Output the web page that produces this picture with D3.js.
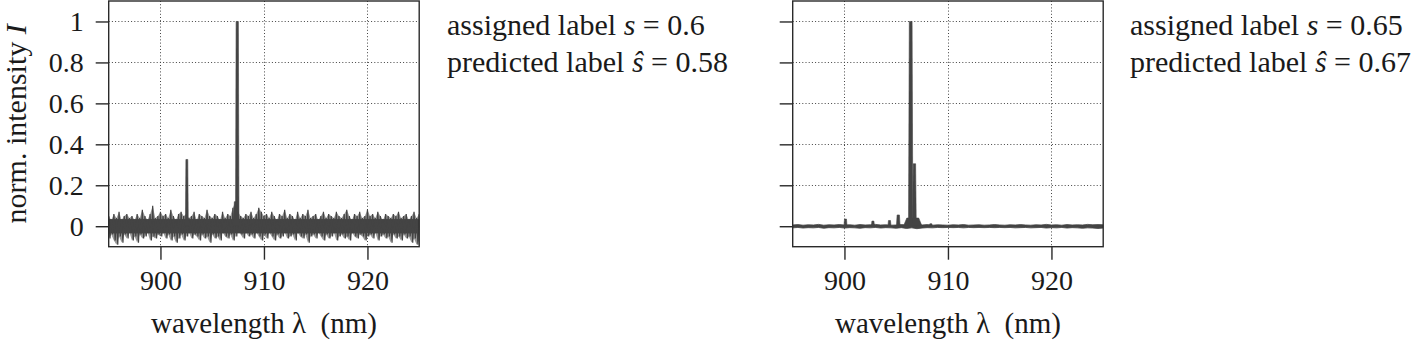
<!DOCTYPE html>
<html><head><meta charset="utf-8">
<script src="https://cdn.jsdelivr.net/npm/d3@7/dist/d3.min.js"></script>
<style>body{margin:0;background:#fff}svg{display:block}</style>
</head><body>
<script>
// ---------------- data ----------------
const xTicks = [900, 910, 920];
const yTicks = [0, 0.2, 0.4, 0.6, 0.8, 1];
const yTickLabels = ["0", "0.2", "0.4", "0.6", "0.8", "1"];
const xDomain = [895, 925];
const yDomain = [-0.1, 1.1];

// left spectrum: noise extremes, sampled every 0.25 nm from 895 to 925
const leftStart = 895, leftStep = 0.25;
const leftUpper = [
 0.05,0.03,0.06,0.04,0.07,0.03,0.05,0.06,0.04,0.05,
 0.03,0.06,0.04,0.08,0.05,0.03,0.06,0.10,0.04,0.05,
 0.07,0.05,0.06,0.04,0.08,0.05,0.03,0.06,0.07,0.05,
 0.06,0.04,0.05,0.07,0.03,0.06,0.05,0.04,0.08,0.05,
 0.04,0.06,0.05,0.03,0.07,0.04,0.06,0.05,0.09,0.12,
 0.07,0.05,0.04,0.06,0.05,0.07,0.04,0.06,0.09,0.07,
 0.05,0.06,0.04,0.07,0.05,0.03,0.06,0.05,0.08,0.04,
 0.06,0.05,0.03,0.07,0.04,0.06,0.05,0.08,0.04,0.05,
 0.06,0.03,0.05,0.07,0.04,0.06,0.05,0.04,0.07,0.05,
 0.04,0.06,0.08,0.05,0.03,0.06,0.05,0.07,0.04,0.05,
 0.08,0.05,0.06,0.04,0.07,0.05,0.03,0.06,0.05,0.04,
 0.06,0.05,0.07,0.04,0.05,0.06,0.03,0.05,0.07,0.04,0.06];
const leftLower = [
 -0.06,-0.04,-0.07,-0.09,-0.05,-0.08,-0.04,-0.06,-0.03,-0.07,
 -0.05,-0.08,-0.04,-0.06,-0.05,-0.03,-0.07,-0.05,-0.06,-0.04,
 -0.05,-0.03,-0.06,-0.04,-0.07,-0.05,-0.08,-0.06,-0.04,-0.07,
 -0.05,-0.03,-0.06,-0.04,-0.05,-0.07,-0.04,-0.06,-0.05,-0.08,
 -0.04,-0.06,-0.05,-0.07,-0.03,-0.05,-0.06,-0.04,-0.07,-0.05,
 -0.02,-0.04,-0.06,-0.03,-0.05,-0.04,-0.06,-0.03,-0.05,-0.07,
 -0.04,-0.06,-0.03,-0.05,-0.07,-0.04,-0.06,-0.05,-0.03,-0.06,
 -0.05,-0.04,-0.07,-0.03,-0.05,-0.06,-0.04,-0.08,-0.05,-0.04,
 -0.06,-0.03,-0.05,-0.07,-0.04,-0.06,-0.05,-0.03,-0.07,-0.05,
 -0.04,-0.06,-0.05,-0.07,-0.03,-0.05,-0.06,-0.04,-0.05,-0.07,
 -0.05,-0.04,-0.06,-0.03,-0.07,-0.05,-0.04,-0.06,-0.05,-0.08,
 -0.04,-0.06,-0.05,-0.07,-0.04,-0.06,-0.05,-0.08,-0.06,-0.09,-0.07];
// dense core of the left noise band (most samples lie within it)
const leftCoreUpper = 0.035, leftCoreLower = -0.035;
// left emission lines: centre (nm), height, width (nm)
const leftPeakCenters = [902.55, 907.42, 907.3];
const leftPeakHeights = [0.326, 1.0, 0.12];
const leftPeakWidths  = [0.28, 0.34, 0.5];

// right spectrum: baseline envelope, sampled every 0.5 nm from 895 to 925
const rightStart = 895, rightStep = 0.5;
const rightUpper = [
 0.006,0.008,0.005,0.007,0.006,0.009,0.005,0.007,0.006,0.008,
 0.006,0.007,0.005,0.008,0.006,0.007,0.009,0.006,0.007,0.005,
 0.006,0.008,0.006,0.005,0.007,0.006,0.008,0.005,0.007,0.006,
 0.005,0.007,0.006,0.008,0.005,0.006,0.007,0.005,0.006,0.008,
 0.006,0.005,0.007,0.006,0.008,0.006,0.005,0.007,0.006,0.009,
 0.006,0.007,0.005,0.008,0.006,0.007,0.006,0.009,0.007,0.008,0.007];
const rightLower = [
 -0.008,-0.006,-0.009,-0.007,-0.008,-0.006,-0.010,-0.007,-0.008,-0.006,
 -0.009,-0.007,-0.008,-0.010,-0.007,-0.008,-0.006,-0.009,-0.007,-0.008,
 -0.010,-0.007,-0.011,-0.008,-0.012,-0.009,-0.007,-0.008,-0.006,-0.007,
 -0.006,-0.007,-0.006,-0.008,-0.006,-0.007,-0.006,-0.007,-0.006,-0.007,
 -0.006,-0.007,-0.006,-0.008,-0.007,-0.006,-0.008,-0.007,-0.006,-0.009,
 -0.007,-0.008,-0.006,-0.009,-0.007,-0.008,-0.010,-0.008,-0.009,-0.011,-0.009];
const rightPeakCenters = [900.1, 902.75, 904.35, 905.2, 906.6, 906.4, 906.76, 908.35];
const rightPeakHeights = [0.035, 0.025, 0.028, 0.055, 0.04, 1.0, 0.305, 0.012];
const rightPeakWidths  = [0.3, 0.3, 0.3, 0.35, 1.8, 0.42, 0.36, 0.3];

const assigned = ["0.6", "0.65"];
const predicted = ["0.58", "0.67"];

// ---------------- layout ----------------
const W = 1412, H = 343;
const panelLeft = [108.7, 792.7];
const panelW = 310.5, panelTop = 1, panelBottom = 246.7;
const annotX = [447, 1130];
const FONT = "'Liberation Serif','Times New Roman',serif";
const ink = "#1a1a1a", dataCol = "#444", boxCol = "#2a2a2a";

const svg = d3.select("body").append("svg").attr("width", W).attr("height", H)
  .style("font-family", FONT);

function series(start, step, up, lo) {
  return up.map((u, i) => ({x: start + i * step, u: u, l: lo[i]}));
}
const panels = [
  {data: series(leftStart, leftStep, leftUpper, leftLower), step: leftStep, zig: true,
   core: [leftCoreLower, leftCoreUpper],
   peaks: leftPeakCenters.map((c, i) => ({c, h: leftPeakHeights[i], w: leftPeakWidths[i]})),
   yLabels: true},
  {data: series(rightStart, rightStep, rightUpper, rightLower), step: rightStep, zig: false,
   peaks: rightPeakCenters.map((c, i) => ({c, h: rightPeakHeights[i], w: rightPeakWidths[i]})),
   yLabels: false}
];

panels.forEach((p, k) => {
  const x = d3.scaleLinear().domain(xDomain).range([panelLeft[k], panelLeft[k] + panelW]);
  const y = d3.scaleLinear().domain(yDomain).range([panelBottom, panelTop]);
  const g = svg.append("g");
  const clipId = "clip" + k;
  g.append("clipPath").attr("id", clipId).append("rect")
    .attr("x", x.range()[0]).attr("y", panelTop)
    .attr("width", panelW).attr("height", panelBottom - panelTop);

  // grid
  const grid = g.append("g").attr("stroke", "#444").attr("stroke-width", 1)
    .attr("stroke-dasharray", "1,2.2");
  grid.selectAll(".gx").data(xTicks).join("line")
    .attr("x1", d => Math.round(x(d)) + 0.5).attr("x2", d => Math.round(x(d)) + 0.5)
    .attr("y1", panelTop).attr("y2", panelBottom);
  grid.selectAll(".gy").data(yTicks).join("line")
    .attr("y1", d => Math.round(y(d)) + 0.5).attr("y2", d => Math.round(y(d)) + 0.5)
    .attr("x1", x.range()[0]).attr("x2", x.range()[1]);

  const plot = g.append("g").attr("clip-path", `url(#${clipId})`);
  if (p.zig) {
    // envelope (lighter, anti-aliased look of the dense trace)
    plot.append("path").datum(p.data)
      .attr("d", d3.area().x(d => x(d.x)).y0(d => y(d.l)).y1(d => y(d.u)))
      .attr("fill", dataCol).attr("fill-opacity", 0.55);
    // dense core
    plot.append("rect")
      .attr("x", x.range()[0]).attr("width", panelW)
      .attr("y", y(p.core[1])).attr("height", y(p.core[0]) - y(p.core[1]))
      .attr("fill", dataCol);
    // noisy trace alternating between extremes
    const pts = [];
    p.data.forEach(d => { pts.push([d.x, d.u]); pts.push([d.x + p.step / 2, d.l]); });
    plot.append("path").datum(pts)
      .attr("d", d3.line().x(d => x(d[0])).y(d => y(d[1])))
      .attr("fill", "none").attr("stroke", dataCol).attr("stroke-width", 1.2)
      .attr("stroke-linejoin", "miter");
  } else {
    plot.append("path").datum(p.data)
      .attr("d", d3.area().x(d => x(d.x)).y0(d => y(d.l)).y1(d => y(d.u)))
      .attr("fill", dataCol).attr("stroke", dataCol).attr("stroke-width", 0.8)
      .attr("stroke-linejoin", "round");
  }
  // emission lines
  plot.selectAll(".pk").data(p.peaks).join("path")
    .attr("d", d => d3.line().x(e => x(e[0])).y(e => y(e[1]))([
      [d.c - d.w / 2, 0], [d.c - d.w * 0.32, d.h], [d.c + d.w * 0.32, d.h], [d.c + d.w / 2, 0]]) + "Z")
    .attr("fill", dataCol).attr("stroke", dataCol).attr("stroke-width", 0.6);

  // box
  g.append("rect").attr("x", x.range()[0]).attr("y", panelTop)
    .attr("width", panelW).attr("height", panelBottom - panelTop)
    .attr("fill", "none").attr("stroke", boxCol).attr("stroke-width", 1.4);

  // axes
  const xAxis = d3.axisBottom(x).tickValues(xTicks).tickSize(13).tickPadding(10)
    .tickFormat(d3.format("d"));
  const ax = g.append("g").attr("transform", `translate(0,${panelBottom})`).call(xAxis);
  const yAxis = d3.axisLeft(y).tickValues(yTicks).tickSize(13).tickPadding(12)
    .tickFormat((d, i) => p.yLabels ? yTickLabels[i] : "");
  const ay = g.append("g").attr("transform", `translate(${x.range()[0]},0)`).call(yAxis);
  [ax, ay].forEach(a => {
    a.attr("font-family", null).attr("font-size", null);
    a.select(".domain").remove();
    a.selectAll("line").attr("stroke", boxCol).attr("stroke-width", 1.4);
    a.selectAll("text").attr("fill", ink).style("font-family", FONT).style("font-size", "28px");
  });
  ax.selectAll("text").attr("dy", "0.71em");

  // x label
  g.append("text").attr("x", x(910)).attr("y", 333)
    .attr("text-anchor", "middle").attr("fill", ink).style("font-size", "29px")
    .text("wavelength λ\u2002(nm)");

  // annotation
  const an = g.append("text").attr("x", annotX[k]).attr("y", 35)
    .attr("fill", ink).style("font-size", "30px");
  an.append("tspan").text("assigned label ");
  an.append("tspan").attr("font-style", "italic").text("s");
  an.append("tspan").text(" = " + assigned[k]);
  const an2 = g.append("text").attr("x", annotX[k]).attr("y", 72)
    .attr("fill", ink).style("font-size", "30px");
  an2.append("tspan").text("predicted label ");
  an2.append("tspan").attr("font-style", "italic").text("ŝ");
  an2.append("tspan").text(" = " + predicted[k]);
});

// y label
const yl = svg.append("text").attr("transform", `translate(26,${(panelTop + panelBottom) / 2}) rotate(-90)`)
  .attr("text-anchor", "middle").attr("fill", ink).style("font-size", "30px");
yl.append("tspan").text("norm. intensity ");
yl.append("tspan").attr("font-style", "italic").text("I");
</script>
</body></html>
